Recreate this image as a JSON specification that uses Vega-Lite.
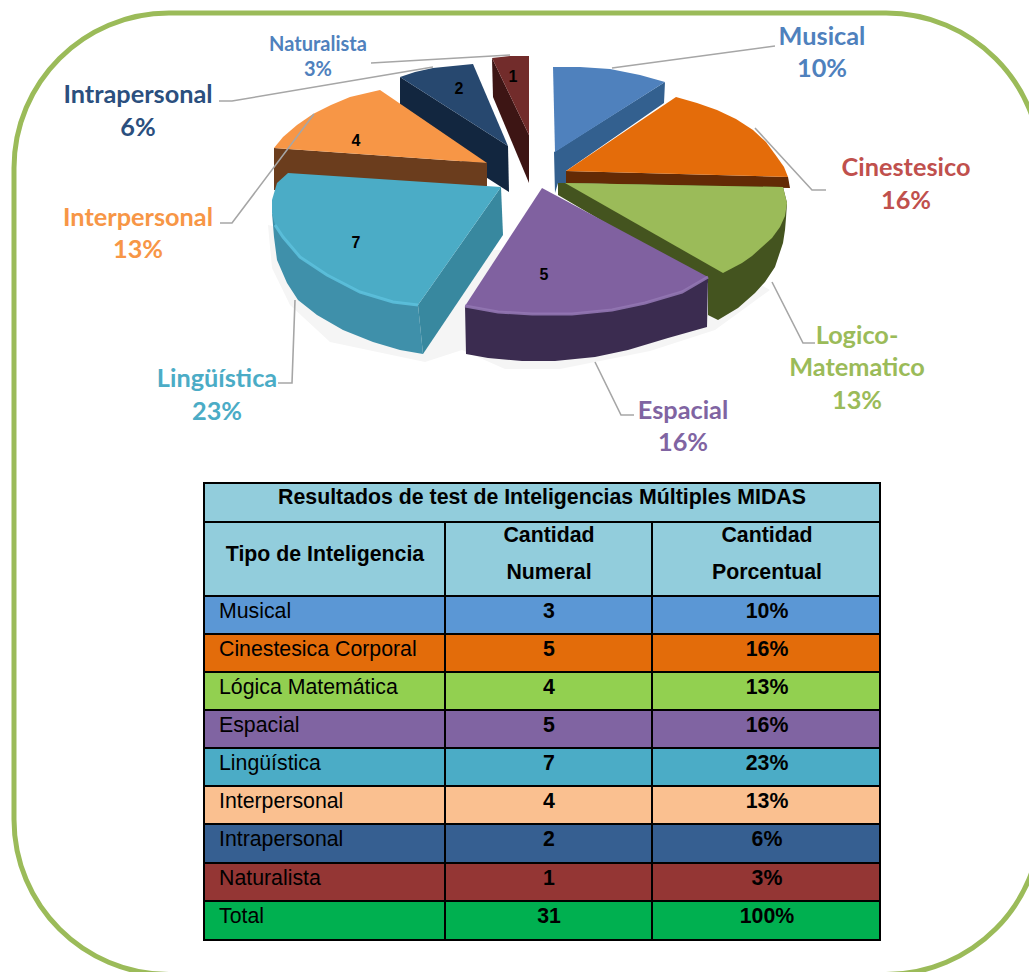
{
"$schema":"https://vega.github.io/schema/vega-lite/v6.json",
"width":1029,"height":972,
"autosize":{"type":"fit","contains":"padding"},
"padding":0,
"background":"white",
"view":{"stroke":null},
"datasets":{
"marco":[{"x0":14,"x1":1041,"y0":13,"y1":974.5}],
"poligonos":[
{"p":"sombra","s":1,"x":268,"y":225},{"p":"sombra","s":2,"x":272,"y":268},{"p":"sombra","s":3,"x":290,"y":305},{"p":"sombra","s":4,"x":330,"y":342},{"p":"sombra","s":5,"x":425,"y":362},{"p":"sombra","s":6,"x":462,"y":350},{"p":"sombra","s":7,"x":505,"y":369},{"p":"sombra","s":8,"x":560,"y":369},{"p":"sombra","s":9,"x":650,"y":351},{"p":"sombra","s":10,"x":715,"y":330},{"p":"sombra","s":11,"x":770,"y":290},{"p":"sombra","s":12,"x":700,"y":250},{"p":"sombra","s":13,"x":400,"y":250},
{"p":"Naturalista lado","s":1,"x":492,"y":58},{"p":"Naturalista lado","s":2,"x":529,"y":135},{"p":"Naturalista lado","s":3,"x":529,"y":183},{"p":"Naturalista lado","s":4,"x":493,"y":97},
{"p":"Naturalista cara","s":1,"x":492,"y":58},{"p":"Naturalista cara","s":2,"x":510,"y":56},{"p":"Naturalista cara","s":3,"x":529,"y":56},{"p":"Naturalista cara","s":4,"x":529,"y":135},
{"p":"Intrapersonal lado","s":1,"x":400,"y":77},{"p":"Intrapersonal lado","s":2,"x":508,"y":146},{"p":"Intrapersonal lado","s":3,"x":509,"y":192},{"p":"Intrapersonal lado","s":4,"x":400,"y":122},
{"p":"Intrapersonal cara","s":1,"x":400,"y":77},{"p":"Intrapersonal cara","s":2,"x":415,"y":72},{"p":"Intrapersonal cara","s":3,"x":433,"y":68},{"p":"Intrapersonal cara","s":4,"x":473,"y":64},{"p":"Intrapersonal cara","s":5,"x":508,"y":146},
{"p":"Musical lado","s":1,"x":665,"y":82},{"p":"Musical lado","s":2,"x":664,"y":103},{"p":"Musical lado","s":3,"x":566,"y":171},{"p":"Musical lado","s":4,"x":566,"y":183},{"p":"Musical lado","s":5,"x":558,"y":183},{"p":"Musical lado","s":6,"x":555,"y":193},{"p":"Musical lado","s":7,"x":554,"y":152},
{"p":"Musical cara","s":1,"x":553,"y":67},{"p":"Musical cara","s":2,"x":580,"y":67},{"p":"Musical cara","s":3,"x":610,"y":69},{"p":"Musical cara","s":4,"x":640,"y":75},{"p":"Musical cara","s":5,"x":665,"y":82},{"p":"Musical cara","s":6,"x":555,"y":152},
{"p":"Cinestesico lado","s":1,"x":566,"y":171},{"p":"Cinestesico lado","s":2,"x":788,"y":177},{"p":"Cinestesico lado","s":3,"x":790,"y":188},{"p":"Cinestesico lado","s":4,"x":566,"y":183},
{"p":"Cinestesico cara","s":1,"x":566,"y":171},{"p":"Cinestesico cara","s":2,"x":676,"y":97},{"p":"Cinestesico cara","s":3,"x":697,"y":103},{"p":"Cinestesico cara","s":4,"x":717,"y":110},{"p":"Cinestesico cara","s":5,"x":736,"y":119},{"p":"Cinestesico cara","s":6,"x":753,"y":130},{"p":"Cinestesico cara","s":7,"x":766,"y":142},{"p":"Cinestesico cara","s":8,"x":777,"y":157},{"p":"Cinestesico cara","s":9,"x":784,"y":167},{"p":"Cinestesico cara","s":10,"x":788,"y":177},
{"p":"Interpersonal lado","s":1,"x":274,"y":148},{"p":"Interpersonal lado","s":2,"x":487,"y":163},{"p":"Interpersonal lado","s":3,"x":487,"y":186},{"p":"Interpersonal lado","s":4,"x":274,"y":190},
{"p":"Interpersonal cara","s":1,"x":274,"y":148},{"p":"Interpersonal cara","s":2,"x":283,"y":137},{"p":"Interpersonal cara","s":3,"x":297,"y":125},{"p":"Interpersonal cara","s":4,"x":313,"y":114},{"p":"Interpersonal cara","s":5,"x":331,"y":105},{"p":"Interpersonal cara","s":6,"x":350,"y":97},{"p":"Interpersonal cara","s":7,"x":380,"y":90},{"p":"Interpersonal cara","s":8,"x":487,"y":163},
{"p":"Logico lado","s":1,"x":558,"y":183},{"p":"Logico lado","s":2,"x":565,"y":183},{"p":"Logico lado","s":3,"x":783,"y":187},{"p":"Logico lado","s":4,"x":787,"y":203},{"p":"Logico lado","s":5,"x":786,"y":218},{"p":"Logico lado","s":6,"x":785,"y":230},{"p":"Logico lado","s":7,"x":783,"y":243},{"p":"Logico lado","s":8,"x":775,"y":267},{"p":"Logico lado","s":9,"x":765,"y":282},{"p":"Logico lado","s":10,"x":755,"y":293},{"p":"Logico lado","s":11,"x":738,"y":308},{"p":"Logico lado","s":12,"x":718,"y":320},{"p":"Logico lado","s":13,"x":708,"y":315},{"p":"Logico lado","s":14,"x":708,"y":283},{"p":"Logico lado","s":15,"x":558,"y":195},
{"p":"Logico cara","s":1,"x":565,"y":183},{"p":"Logico cara","s":2,"x":783,"y":187},{"p":"Logico cara","s":3,"x":787,"y":203},{"p":"Logico cara","s":4,"x":785,"y":216},{"p":"Logico cara","s":5,"x":780,"y":227},{"p":"Logico cara","s":6,"x":772,"y":238},{"p":"Logico cara","s":7,"x":762,"y":247},{"p":"Logico cara","s":8,"x":752,"y":256},{"p":"Logico cara","s":9,"x":742,"y":263},{"p":"Logico cara","s":10,"x":723,"y":273},
{"p":"Linguistica borde","s":1,"x":272,"y":213},{"p":"Linguistica borde","s":2,"x":274,"y":237},{"p":"Linguistica borde","s":3,"x":277,"y":260},{"p":"Linguistica borde","s":4,"x":287,"y":283},{"p":"Linguistica borde","s":5,"x":298,"y":300},{"p":"Linguistica borde","s":6,"x":317,"y":315},{"p":"Linguistica borde","s":7,"x":343,"y":330},{"p":"Linguistica borde","s":8,"x":373,"y":342},{"p":"Linguistica borde","s":9,"x":400,"y":350},{"p":"Linguistica borde","s":10,"x":423,"y":354},{"p":"Linguistica borde","s":11,"x":418,"y":305},{"p":"Linguistica borde","s":12,"x":360,"y":292},{"p":"Linguistica borde","s":13,"x":300,"y":257},
{"p":"Linguistica lado","s":1,"x":418,"y":305},{"p":"Linguistica lado","s":2,"x":501,"y":187},{"p":"Linguistica lado","s":3,"x":503,"y":235},{"p":"Linguistica lado","s":4,"x":423,"y":354},
{"p":"Linguistica cara","s":1,"x":288,"y":173},{"p":"Linguistica cara","s":2,"x":501,"y":187},{"p":"Linguistica cara","s":3,"x":418,"y":305},{"p":"Linguistica cara","s":4,"x":393,"y":302},{"p":"Linguistica cara","s":5,"x":360,"y":292},{"p":"Linguistica cara","s":6,"x":327,"y":275},{"p":"Linguistica cara","s":7,"x":300,"y":257},{"p":"Linguistica cara","s":8,"x":283,"y":237},{"p":"Linguistica cara","s":9,"x":275,"y":225},{"p":"Linguistica cara","s":10,"x":272,"y":213},{"p":"Linguistica cara","s":11,"x":272,"y":200},{"p":"Linguistica cara","s":12,"x":277,"y":183},
{"p":"Espacial lado","s":1,"x":465,"y":306},{"p":"Espacial lado","s":2,"x":466,"y":354},{"p":"Espacial lado","s":3,"x":488,"y":358},{"p":"Espacial lado","s":4,"x":522,"y":361},{"p":"Espacial lado","s":5,"x":555,"y":361},{"p":"Espacial lado","s":6,"x":595,"y":357},{"p":"Espacial lado","s":7,"x":628,"y":350},{"p":"Espacial lado","s":8,"x":668,"y":338},{"p":"Espacial lado","s":9,"x":707,"y":327},{"p":"Espacial lado","s":10,"x":708,"y":277},
{"p":"Espacial cara","s":1,"x":542,"y":188},{"p":"Espacial cara","s":2,"x":708,"y":277},{"p":"Espacial cara","s":3,"x":682,"y":292},{"p":"Espacial cara","s":4,"x":645,"y":303},{"p":"Espacial cara","s":5,"x":612,"y":310},{"p":"Espacial cara","s":6,"x":572,"y":314},{"p":"Espacial cara","s":7,"x":532,"y":314},{"p":"Espacial cara","s":8,"x":498,"y":312},{"p":"Espacial cara","s":9,"x":465,"y":306}
],
"brillos":[
{"p":"Linguistica","s":1,"x":275,"y":225},{"p":"Linguistica","s":2,"x":283,"y":237},{"p":"Linguistica","s":3,"x":300,"y":257},{"p":"Linguistica","s":4,"x":327,"y":275},{"p":"Linguistica","s":5,"x":360,"y":292},{"p":"Linguistica","s":6,"x":393,"y":302},{"p":"Linguistica","s":7,"x":418,"y":305},
{"p":"Espacial","s":1,"x":465,"y":306},{"p":"Espacial","s":2,"x":498,"y":312},{"p":"Espacial","s":3,"x":532,"y":314},{"p":"Espacial","s":4,"x":572,"y":314},{"p":"Espacial","s":5,"x":612,"y":310},{"p":"Espacial","s":6,"x":645,"y":303},{"p":"Espacial","s":7,"x":682,"y":292},{"p":"Espacial","s":8,"x":708,"y":277}
],
"guias":[
{"p":"Musical","s":1,"x":612,"y":68},{"p":"Musical","s":2,"x":775,"y":46},
{"p":"Cinestesico","s":1,"x":755,"y":128},{"p":"Cinestesico","s":2,"x":812,"y":190},{"p":"Cinestesico","s":3,"x":826,"y":190},
{"p":"Logico","s":1,"x":772,"y":282},{"p":"Logico","s":2,"x":803,"y":343},{"p":"Logico","s":3,"x":815,"y":343},
{"p":"Espacial","s":1,"x":595,"y":362},{"p":"Espacial","s":2,"x":621,"y":415},{"p":"Espacial","s":3,"x":634,"y":415},
{"p":"Linguistica","s":1,"x":295,"y":300},{"p":"Linguistica","s":2,"x":292,"y":383},{"p":"Linguistica","s":3,"x":278,"y":383},
{"p":"Interpersonal","s":1,"x":314,"y":114},{"p":"Interpersonal","s":2,"x":232,"y":223},{"p":"Interpersonal","s":3,"x":220,"y":223},
{"p":"Intrapersonal","s":1,"x":433,"y":67},{"p":"Intrapersonal","s":2,"x":232,"y":101},{"p":"Intrapersonal","s":3,"x":219,"y":101},
{"p":"Naturalista","s":1,"x":510,"y":55},{"p":"Naturalista","s":2,"x":371,"y":63}
],
"etiquetas":[
{"t":"Musical","g":"Musical","x":822,"y":35},{"t":"10%","g":"Musical","x":822,"y":67},
{"t":"Intrapersonal","g":"Intrapersonal","x":138,"y":93},{"t":"6%","g":"Intrapersonal","x":138,"y":126},
{"t":"Cinestesico","g":"Cinestesico","x":906,"y":166},{"t":"16%","g":"Cinestesico","x":906,"y":199},
{"t":"Interpersonal","g":"Interpersonal","x":138,"y":216},{"t":"13%","g":"Interpersonal","x":138,"y":248},
{"t":"Logico-","g":"Logico","x":857,"y":334},{"t":"Matematico","g":"Logico","x":857,"y":366},{"t":"13%","g":"Logico","x":857,"y":399},
{"t":"Lingüística","g":"Linguistica","x":217,"y":377},{"t":"23%","g":"Linguistica","x":217,"y":410},
{"t":"Espacial","g":"Espacial","x":683,"y":409},{"t":"16%","g":"Espacial","x":683,"y":441}
],
"etiquetasChicas":[{"t":"Naturalista","x":318,"y":44},{"t":"3%","x":318,"y":69}],
"valores":[{"t":"1","x":513,"y":77},{"t":"2","x":459,"y":89},{"t":"4","x":356,"y":141},{"t":"7","x":356,"y":243},{"t":"5","x":544,"y":275}],
"celdas":[
{"c":"Encabezado","x0":204,"x1":880,"y0":483,"y1":522},
{"c":"Encabezado","x0":204,"x1":445,"y0":522,"y1":596},{"c":"Encabezado","x0":445,"x1":652,"y0":522,"y1":596},{"c":"Encabezado","x0":652,"x1":880,"y0":522,"y1":596},
{"c":"Musical","x0":204,"x1":445,"y0":596,"y1":634},{"c":"Musical","x0":445,"x1":652,"y0":596,"y1":634},{"c":"Musical","x0":652,"x1":880,"y0":596,"y1":634},
{"c":"Cinestesica","x0":204,"x1":445,"y0":634,"y1":672},{"c":"Cinestesica","x0":445,"x1":652,"y0":634,"y1":672},{"c":"Cinestesica","x0":652,"x1":880,"y0":634,"y1":672},
{"c":"Logica","x0":204,"x1":445,"y0":672,"y1":710},{"c":"Logica","x0":445,"x1":652,"y0":672,"y1":710},{"c":"Logica","x0":652,"x1":880,"y0":672,"y1":710},
{"c":"Espacial","x0":204,"x1":445,"y0":710,"y1":748},{"c":"Espacial","x0":445,"x1":652,"y0":710,"y1":748},{"c":"Espacial","x0":652,"x1":880,"y0":710,"y1":748},
{"c":"Linguistica","x0":204,"x1":445,"y0":748,"y1":786},{"c":"Linguistica","x0":445,"x1":652,"y0":748,"y1":786},{"c":"Linguistica","x0":652,"x1":880,"y0":748,"y1":786},
{"c":"Interpersonal","x0":204,"x1":445,"y0":786,"y1":824},{"c":"Interpersonal","x0":445,"x1":652,"y0":786,"y1":824},{"c":"Interpersonal","x0":652,"x1":880,"y0":786,"y1":824},
{"c":"Intrapersonal","x0":204,"x1":445,"y0":824,"y1":863},{"c":"Intrapersonal","x0":445,"x1":652,"y0":824,"y1":863},{"c":"Intrapersonal","x0":652,"x1":880,"y0":824,"y1":863},
{"c":"Naturalista","x0":204,"x1":445,"y0":863,"y1":901},{"c":"Naturalista","x0":445,"x1":652,"y0":863,"y1":901},{"c":"Naturalista","x0":652,"x1":880,"y0":863,"y1":901},
{"c":"Total","x0":204,"x1":445,"y0":901,"y1":940},{"c":"Total","x0":445,"x1":652,"y0":901,"y1":940},{"c":"Total","x0":652,"x1":880,"y0":901,"y1":940}
],
"textoNegrita":[
{"t":"Resultados de test de Inteligencias Múltiples MIDAS","x":542,"y":497},
{"t":"Tipo de Inteligencia","x":325,"y":554},
{"t":"Cantidad","x":549,"y":535},{"t":"Numeral","x":549,"y":572},{"t":"Cantidad","x":767,"y":535},{"t":"Porcentual","x":767,"y":572},
{"t":"3","x":549,"y":611},{"t":"10%","x":767,"y":611},
{"t":"5","x":549,"y":649},{"t":"16%","x":767,"y":649},
{"t":"4","x":549,"y":687},{"t":"13%","x":767,"y":687},
{"t":"5","x":549,"y":725},{"t":"16%","x":767,"y":725},
{"t":"7","x":549,"y":763},{"t":"23%","x":767,"y":763},
{"t":"4","x":549,"y":801},{"t":"13%","x":767,"y":801},
{"t":"2","x":549,"y":839},{"t":"6%","x":767,"y":839},
{"t":"1","x":549,"y":878},{"t":"3%","x":767,"y":878},
{"t":"31","x":549,"y":916},{"t":"100%","x":767,"y":916}
],
"textoNormal":[
{"t":"Musical","x":219,"y":611},{"t":"Cinestesica Corporal","x":219,"y":649},{"t":"Lógica Matemática","x":219,"y":687},{"t":"Espacial","x":219,"y":725},{"t":"Lingüística","x":219,"y":763},{"t":"Interpersonal","x":219,"y":801},{"t":"Intrapersonal","x":219,"y":839},{"t":"Naturalista","x":219,"y":878},{"t":"Total","x":219,"y":916}
]
},
"resolve":{"scale":{"fill":"independent","color":"independent"}},
"layer":[
{"data":{"name":"poligonos"},
 "mark":{"type":"line","strokeOpacity":0,"strokeWidth":0},
 "encoding":{
  "x":{"field":"x","type":"quantitative","axis":null,"scale":{"domain":[0,1029],"nice":false,"zero":false}},
  "y":{"field":"y","type":"quantitative","axis":null,"scale":{"domain":[972,0],"nice":false,"zero":false}},
  "detail":{"field":"p"},
  "order":{"field":"s","type":"quantitative"},
  "fill":{"field":"p","type":"nominal","legend":null,"sort":null,"scale":{
   "domain":["sombra","Naturalista lado","Naturalista cara","Intrapersonal lado","Intrapersonal cara","Musical lado","Musical cara","Cinestesico lado","Cinestesico cara","Interpersonal lado","Interpersonal cara","Logico lado","Logico cara","Linguistica borde","Linguistica lado","Linguistica cara","Espacial lado","Espacial cara"],
   "range":["#f5f5f5","#3d1514","#722c2b","#12263f","#27486f","#33608f","#4f81bd","#632a05","#e46c0a","#6b3d1d","#f79646","#44541f","#9bbb59","#3f90aa","#38889f","#4bacc6","#3b2c50","#8061a0"]}}
 }},
{"data":{"name":"brillos"},
 "mark":{"type":"line","strokeWidth":3,"opacity":0.9},
 "encoding":{
  "x":{"field":"x","type":"quantitative","axis":null,"scale":{"domain":[0,1029],"nice":false,"zero":false}},
  "y":{"field":"y","type":"quantitative","axis":null,"scale":{"domain":[972,0],"nice":false,"zero":false}},
  "order":{"field":"s","type":"quantitative"},
  "color":{"field":"p","type":"nominal","legend":null,"scale":{"domain":["Linguistica","Espacial"],"range":["#5cc0dc","#9277b3"]}}
 }},
{"data":{"name":"guias"},
 "mark":{"type":"line","strokeWidth":1.6,"color":"#a6a6a6"},
 "encoding":{
  "x":{"field":"x","type":"quantitative","axis":null,"scale":{"domain":[0,1029],"nice":false,"zero":false}},
  "y":{"field":"y","type":"quantitative","axis":null,"scale":{"domain":[972,0],"nice":false,"zero":false}},
  "detail":{"field":"p"},
  "order":{"field":"s","type":"quantitative"}
 }},
{"data":{"name":"etiquetas"},
 "mark":{"type":"text","font":"Lato","fontWeight":"bold","fontSize":25.3,"align":"center","baseline":"middle","dy":1.5},
 "encoding":{
  "x":{"field":"x","type":"quantitative","axis":null,"scale":{"domain":[0,1029],"nice":false,"zero":false}},
  "y":{"field":"y","type":"quantitative","axis":null,"scale":{"domain":[972,0],"nice":false,"zero":false}},
  "text":{"field":"t"},
  "color":{"field":"g","type":"nominal","legend":null,"scale":{"domain":["Musical","Intrapersonal","Cinestesico","Interpersonal","Logico","Linguistica","Espacial"],"range":["#4f81bd","#2b4f7e","#c0504d","#f79646","#9bbb59","#4bacc6","#8064a2"]}}
 }},
{"data":{"name":"etiquetasChicas"},
 "mark":{"type":"text","font":"Lato","fontWeight":"bold","fontSize":20,"align":"center","baseline":"middle","color":"#4f81bd","dy":1},
 "encoding":{
  "x":{"field":"x","type":"quantitative","axis":null,"scale":{"domain":[0,1029],"nice":false,"zero":false}},
  "y":{"field":"y","type":"quantitative","axis":null,"scale":{"domain":[972,0],"nice":false,"zero":false}},
  "text":{"field":"t"}
 }},
{"data":{"name":"valores"},
 "mark":{"type":"text","font":"Liberation Sans","fontWeight":"bold","fontSize":16,"align":"center","baseline":"middle","color":"black"},
 "encoding":{
  "x":{"field":"x","type":"quantitative","axis":null,"scale":{"domain":[0,1029],"nice":false,"zero":false}},
  "y":{"field":"y","type":"quantitative","axis":null,"scale":{"domain":[972,0],"nice":false,"zero":false}},
  "text":{"field":"t"}
 }},
{"data":{"name":"celdas"},
 "mark":{"type":"rect","stroke":"black","strokeWidth":2},
 "encoding":{
  "x":{"field":"x0","type":"quantitative","axis":null,"scale":{"domain":[0,1029],"nice":false,"zero":false}},
  "x2":{"field":"x1"},
  "y":{"field":"y0","type":"quantitative","axis":null,"scale":{"domain":[972,0],"nice":false,"zero":false}},
  "y2":{"field":"y1"},
  "fill":{"field":"c","type":"nominal","legend":null,"scale":{"domain":["Encabezado","Musical","Cinestesica","Logica","Espacial","Linguistica","Interpersonal","Intrapersonal","Naturalista","Total"],"range":["#92cddc","#5b97d5","#e36c0a","#92d050","#8064a2","#4bacc6","#fac090","#365f91","#943634","#00b050"]}}
 }},
{"data":{"name":"textoNegrita"},
 "mark":{"type":"text","font":"Liberation Sans","fontWeight":"bold","fontSize":21.3,"align":"center","baseline":"middle","color":"black","dy":0.5},
 "encoding":{
  "x":{"field":"x","type":"quantitative","axis":null,"scale":{"domain":[0,1029],"nice":false,"zero":false}},
  "y":{"field":"y","type":"quantitative","axis":null,"scale":{"domain":[972,0],"nice":false,"zero":false}},
  "text":{"field":"t"}
 }},
{"data":{"name":"textoNormal"},
 "mark":{"type":"text","font":"Liberation Sans","fontSize":21.3,"align":"left","baseline":"middle","color":"black","dy":0.5},
 "encoding":{
  "x":{"field":"x","type":"quantitative","axis":null,"scale":{"domain":[0,1029],"nice":false,"zero":false}},
  "y":{"field":"y","type":"quantitative","axis":null,"scale":{"domain":[972,0],"nice":false,"zero":false}},
  "text":{"field":"t"}
 }},
{"data":{"name":"marco"},
 "mark":{"type":"rect","fillOpacity":0,"stroke":"#9bbb59","strokeWidth":5,"cornerRadius":155,"clip":true},
 "encoding":{
  "x":{"field":"x0","type":"quantitative","axis":null,"scale":{"domain":[0,1029],"nice":false,"zero":false}},
  "x2":{"field":"x1"},
  "y":{"field":"y0","type":"quantitative","axis":null,"scale":{"domain":[972,0],"nice":false,"zero":false}},
  "y2":{"field":"y1"}
 }}
]
}
